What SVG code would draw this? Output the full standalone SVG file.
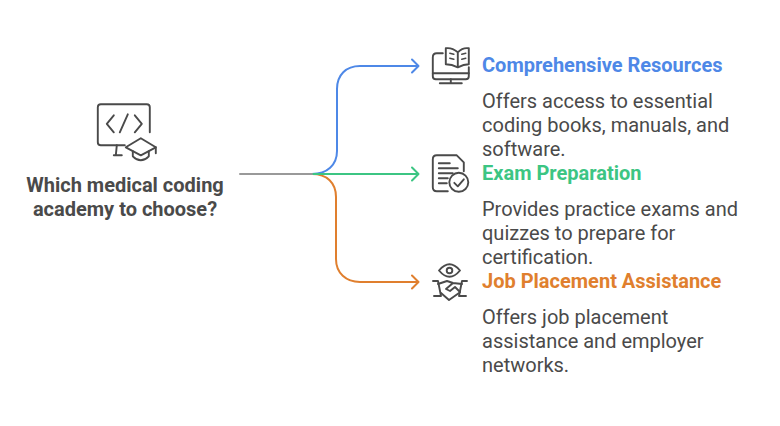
<svg xmlns="http://www.w3.org/2000/svg" width="780" height="426" viewBox="0 0 780 426">
<style>
.t{font-family:Roboto,"Liberation Sans",sans-serif}
.h{font-size:20px;font-weight:700}
.b{font-size:20px;fill:#4a4a4a}
.q{font-size:20px;font-weight:700;fill:#4a4a4a;text-anchor:middle}
.i{fill:none;stroke:#4a4a4a;stroke-width:1.900;stroke-linecap:round;stroke-linejoin:round}
.c{fill:none;stroke-width:2;stroke-linecap:round;stroke-linejoin:round}
</style>
<rect width="780" height="426" fill="#fff"/>
<g id="connectors">
<path class="c" stroke="#4e88e7" d="M312 174C327 174 337 165 337 151V89C337 75 346 66 360 66H418M412 59.500L418.500 66L412 72.500"/>
<path class="c" stroke="#e07f2e" d="M312 174C327 174 336 183 336 197V259C336 273 346 282 360 282H418M412 275.500L418.500 282L412 288.500"/>
<path class="c" stroke="#3cc583" d="M312 174H418M412 167.500L418.500 174L412 180.500"/>
<path class="c" stroke="#999" d="M240 174H312"/>
</g>
<g id="root">
<g class="i" transform="translate(0.800 0.300)">
<path d="M149 132V107Q149 104 146 104H100Q97 104 97 107V142Q97 145 100 145H124"/>
<path d="M116 145L115 155M113 155H121"/>
<path d="M113 115L106 123.500L113 132M134 115L141 123.500L134 132M127 114L119 132"/>
<path d="M140 138L155 147L140 155L125 147Z"/>
<path d="M132 151V156Q140 164 148 156V151M155 147V153"/>
</g>
<text class="t q" x="125" y="192">Which medical coding</text>
<text class="t q" x="125" y="216">academy to choose?</text>
</g>
<g id="resources">
<g class="i" transform="translate(0.800 0.300)">
<path d="M442 53H436Q432 53 432 57V76Q432 79 435 79H465Q468 79 468 76V67"/>
<path d="M432 73H468M439 83H461M450 79V83"/>
<path d="M457 52Q451 47 445 48V64Q451 64 457 67Q463 64 468 64V48Q462 47 457 52ZM457 52V66"/>
<path d="M449 53L453 54M449 58L453 59M461 54L465 53M461 59L465 58" stroke-width="1.500"/>
</g>
<text class="t h" x="482" y="72" fill="#4e88e7">Comprehensive Resources</text>
<text class="t b" x="482" y="108">Offers access to essential</text>
<text class="t b" x="482" y="132">coding books, manuals, and</text>
<text class="t b" x="482" y="156">software.</text>
</g>
<g id="exam">
<g class="i" transform="translate(0.800 0.300)">
<path d="M447 191H436Q432 191 432 187V159Q432 155 436 155H456L463 162V171"/>
<path d="M438 163H449M438 168H457M438 173H452M438 178H447M438 183H446"/>
<circle cx="458" cy="182" r="9.500"/>
<path d="M453.500 182.500L457 186L463 179"/>
</g>
<text class="t h" x="482" y="180" fill="#3cc583">Exam Preparation</text>
<text class="t b" x="482" y="216">Provides practice exams and</text>
<text class="t b" x="482" y="240">quizzes to prepare for</text>
<text class="t b" x="482" y="264">certification.</text>
</g>
<g id="placement">
<g class="i">
<path d="M439 270.500Q449.500 258 460 270.500Q449.500 283 439 270.500Z"/>
<circle cx="449.500" cy="270.500" r="2.800"/>
<path d="M433 281H438L441 296H434M467 281H462L459 296H466"/>
<path d="M438 284L447 281L453 283L462 284M441 293L449 300L459 293M453 283L446 289L450 291L455 287L460 292"/>
</g>
<text class="t h" x="482" y="288" fill="#e07f2e">Job Placement Assistance</text>
<text class="t b" x="482" y="324">Offers job placement</text>
<text class="t b" x="482" y="348">assistance and employer</text>
<text class="t b" x="482" y="372">networks.</text>
</g>
</svg>
